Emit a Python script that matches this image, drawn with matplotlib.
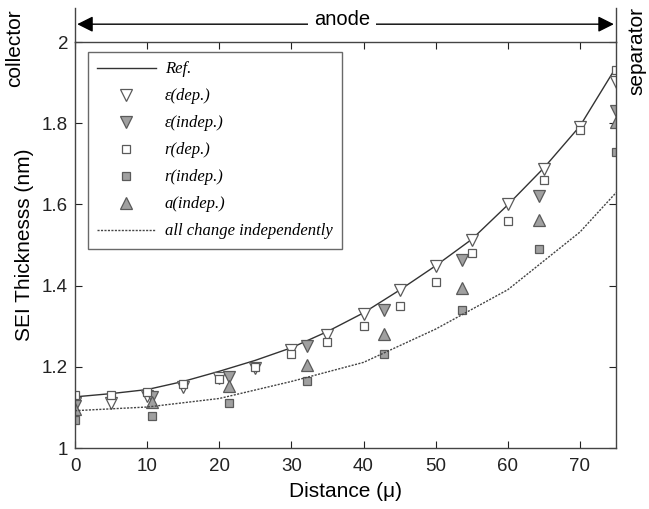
"""SEI thickness along the anode: reference vs. parameter variations."""
import matplotlib.pyplot as plt
import numpy as np

plt.rcParams["font.family"] = ["Liberation Sans", "DejaVu Sans"]

# reference curve and dependent-parameter cases (every 5 um)
x_dep = [0, 5, 10, 15, 20, 25, 30, 35, 40, 45, 50, 55, 60, 65, 70, 75]
ref = [1.126, 1.134, 1.144, 1.164, 1.189, 1.216, 1.247, 1.287, 1.333, 1.389,
       1.449, 1.514, 1.599, 1.690, 1.793, 1.938]
eps_dep = [1.110, 1.110, 1.128, 1.150, 1.172, 1.196, 1.241, 1.279, 1.330, 1.389,
           1.449, 1.512, 1.601, 1.688, 1.791, 1.901]
r_dep = [1.130, 1.130, 1.138, 1.157, 1.170, 1.200, 1.232, 1.260, 1.301, 1.350,
         1.410, 1.480, 1.559, 1.660, 1.783, 1.931]

# independent-parameter cases (7 intervals over 75 um)
x_ind = [0, 10.7, 21.4, 32.1, 42.9, 53.6, 64.3, 75]
eps_ind = [1.104, 1.126, 1.174, 1.252, 1.341, 1.463, 1.622, 1.829]
r_ind = [1.070, 1.080, 1.112, 1.164, 1.231, 1.341, 1.490, 1.730]
a_ind = [1.096, 1.114, 1.154, 1.204, 1.282, 1.393, 1.561, 1.804]

# all parameters change independently
x_all = [0, 10, 20, 30, 40, 50, 60, 70, 75]
all_ind = [1.092, 1.101, 1.122, 1.164, 1.211, 1.293, 1.390, 1.532, 1.629]

fig = plt.figure(figsize=(6.49, 5.09), dpi=100)
ax = fig.add_axes([0.1156, 0.1198, 0.8336, 0.7976])

gray = "#a0a0a0"
edge = "#5a5a5a"
ax.plot(x_dep, ref, color="#333333", lw=1.0, label="Ref.")
ax.plot(x_dep, eps_dep, ls="none", marker="v", ms=8.5, mfc="white", mec=edge,
        mew=0.9, label="\u03b5(dep.)")
ax.plot(x_ind, eps_ind, ls="none", marker="v", ms=8.5, mfc=gray, mec=edge,
        mew=0.9, label="\u03b5(indep.)")
ax.plot(x_dep, r_dep, ls="none", marker="s", ms=6, mfc="white", mec=edge,
        mew=0.9, label="r(dep.)")
ax.plot(x_ind, r_ind, ls="none", marker="s", ms=6, mfc=gray, mec=edge,
        mew=0.9, label="r(indep.)")
ax.plot(x_ind, a_ind, ls="none", marker="^", ms=8.5, mfc=gray, mec=edge,
        mew=0.9, label="a(indep.)")
ax.plot(x_all, all_ind, color="#444444", lw=1.0, ls=(0, (1.5, 1.0)),
        label="all change independently")

ax.set_xlim(0, 75)
ax.set_ylim(1, 2)
ax.set_xticks(np.arange(0, 71, 10))
ax.set_yticks([1, 1.2, 1.4, 1.6, 1.8, 2])
ax.set_yticklabels(["1", "1.2", "1.4", "1.6", "1.8", "2"])
ax.tick_params(direction="in", top=True, right=True, length=5, width=0.8,
               labelsize=13.5, colors="#222222")
ax.tick_params(axis="x", pad=7)
ax.tick_params(axis="y", pad=5)
for s in ax.spines.values():
    s.set_color("#444444")
    s.set_linewidth(1.0)

ax.set_xlabel("Distance (\u03bc)", fontsize=15, labelpad=5)
ax.set_ylabel("SEI Thicknesss (nm)", fontsize=15, labelpad=6)

leg = ax.legend(loc="upper left", bbox_to_anchor=(0.024, 0.975),
                prop={"family": "Liberation Serif", "style": "italic", "size": 12},
                frameon=True, fancybox=False, edgecolor="#444444",
                borderpad=0.55, labelspacing=0.66, handlelength=3.5,
                handletextpad=0.55, borderaxespad=0.0)
leg.get_frame().set_linewidth(1.0)

# extension lines above the axes and the anode arrow
for xv in (0, 75):
    ax.plot([xv, xv], [2, 2.084], color="#444444", lw=1.0, clip_on=False)
ax.annotate("", xy=(0.3, 2.044), xytext=(74.7, 2.044),
            arrowprops=dict(arrowstyle="<|-|>", color="black", lw=1.0,
                            mutation_scale=24, shrinkA=0, shrinkB=0),
            annotation_clip=False)
ax.text(37, 2.056, "anode", ha="center", va="center", fontsize=14.5,
        bbox=dict(facecolor="white", edgecolor="none", pad=4))

fig.text(0.022, 0.905, "collector", rotation=90, ha="center", va="center",
         fontsize=15)
fig.text(0.981, 0.9, "separator", rotation=90, ha="center", va="center",
         fontsize=15)

fig.savefig("out.png", dpi=100)
